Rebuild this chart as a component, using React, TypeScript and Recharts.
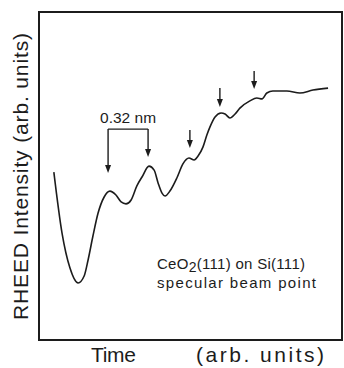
import { LineChart, Line, XAxis, YAxis, ReferenceArea, ReferenceLine } from "recharts";

// RHEED intensity trace, time and intensity in arbitrary units (0-100)
const time = [
  4.9, 7.6, 10.2, 12.9, 14.9, 16.2, 17.8, 19.5, 21.5, 23.4, 25.4, 27.1, 28.7, 30.4, 32.3, 34.0,
  36.3, 38.0, 39.3, 40.6, 41.6, 43.2, 45.5, 47.5, 49.5, 51.2, 52.5, 54.1, 55.4, 56.4, 58.1, 60.1,
  61.4, 63.0, 64.7, 66.3, 69.6, 71.9, 73.6, 75.2, 77.2, 81.8, 86.1, 90.4, 95.4,
];
const intensity = [
  51.2, 32.6, 22.0, 17.4, 19.5, 24.4, 31.7, 38.7, 43.6, 45.4, 44.2, 42.1, 41.5, 42.7, 47.0, 49.7,
  53.0, 51.8, 47.9, 44.8, 43.9, 45.4, 49.4, 53.7, 55.5, 54.9, 56.1, 58.8, 62.5, 64.9, 68.0, 69.2,
  68.9, 67.7, 68.9, 70.7, 72.9, 73.8, 73.5, 75.3, 75.9, 75.9, 75.3, 76.2, 76.8,
];

// arrows marking the oscillation maxima: [time, from, to]
const markerArrows = [
  [49.8, 64.0, 58.5],
  [59.7, 76.8, 71.0],
  [71.0, 82.0, 76.5],
];
// 0.32 nm bracket: left/right time, top, and the two arrow ends
const bracket = { left: 22.8, right: 36.0, top: 64.3, leftEnd: 50.9, rightEnd: 55.8 };

const data = time.map((t, i) => ({ t, v: intensity[i] }));

const INK = "#1c1c1c";
const FONT = "'Liberation Sans', Arial, sans-serif";

function Arrow(props: any) {
  const { x1, y1, x2, y2 } = props;
  const head = 8;
  const half = 3;
  return (
    <g>
      <line x1={x1} y1={y1} x2={x2} y2={y2 - head + 1} stroke={INK} strokeWidth={1.4} />
      <path d={`M${x2 - half},${y2 - head} L${x2 + half},${y2 - head} L${x2},${y2} Z`} fill={INK} />
    </g>
  );
}

function Plain(props: any) {
  const { x1, y1, x2, y2 } = props;
  return <line x1={x1} y1={y1} x2={x2} y2={y2} stroke={INK} strokeWidth={1.4} />;
}

function BracketLabel(props: any) {
  const { viewBox } = props;
  const cx = viewBox.x + viewBox.width / 2;
  return (
    <text x={cx} y={viewBox.y - 6} textAnchor="middle" fontSize={15} fontFamily={FONT} fill={INK} textLength={56} lengthAdjust="spacingAndGlyphs">
      0.32 nm
    </text>
  );
}

export default function App() {
  return (
    <div style={{ position: "absolute", left: 0, top: 0, width: 344, height: 368, background: "#fff" }}>
      <LineChart width={344} height={368} data={data} margin={{ top: 12, right: 2, bottom: 28, left: 39 }}>
        <XAxis dataKey="t" type="number" domain={[0, 100]} hide />
        <YAxis type="number" domain={[0, 100]} hide />
        <ReferenceArea x1={0} x2={100} y1={0} y2={100} fill="none" stroke={INK} strokeWidth={2} ifOverflow="visible" />
        <Line type="monotone" dataKey="v" stroke={INK} strokeWidth={1.6} dot={false} isAnimationActive={false} />
        <ReferenceLine
          segment={[{ x: bracket.left, y: bracket.top }, { x: bracket.right, y: bracket.top }]}
          shape={Plain}
          label={<BracketLabel />}
        />
        <ReferenceLine segment={[{ x: bracket.left, y: bracket.top }, { x: bracket.left, y: bracket.leftEnd }]} shape={Arrow} />
        <ReferenceLine segment={[{ x: bracket.right, y: bracket.top }, { x: bracket.right, y: bracket.rightEnd }]} shape={Arrow} />
        {markerArrows.map(([t, from, to], i) => (
          <ReferenceLine key={i} segment={[{ x: t, y: from }, { x: t, y: to }]} shape={Arrow} />
        ))}
      </LineChart>
      <svg width={344} height={368} style={{ position: "absolute", left: 0, top: 0, pointerEvents: "none" }}>
        <text x={28} y={176.5} transform="rotate(-90, 28, 176.5)" textAnchor="middle" fontSize={21} fontFamily={FONT} fill={INK} textLength={287} lengthAdjust="spacing">
          RHEED Intensity (arb. units)
        </text>
        <text x={113.5} y={362} textAnchor="middle" fontSize={21} fontFamily={FONT} fill={INK} textLength={45} lengthAdjust="spacing">
          Time
        </text>
        <text x={260} y={362} textAnchor="middle" fontSize={21} fontFamily={FONT} fill={INK} textLength={128} lengthAdjust="spacing">
          (arb. units)
        </text>
        <text x={157} y={269} fontSize={15} fontFamily={FONT} fill={INK} textLength={148} lengthAdjust="spacing">
          CeO<tspan dy={3} fontSize={14}>2</tspan><tspan dy={-3}>(111) on Si(111)</tspan>
        </text>
        <text x={157} y={288} fontSize={15} fontFamily={FONT} fill={INK} textLength={159} lengthAdjust="spacing">
          specular beam point
        </text>
      </svg>
    </div>
  );
}
